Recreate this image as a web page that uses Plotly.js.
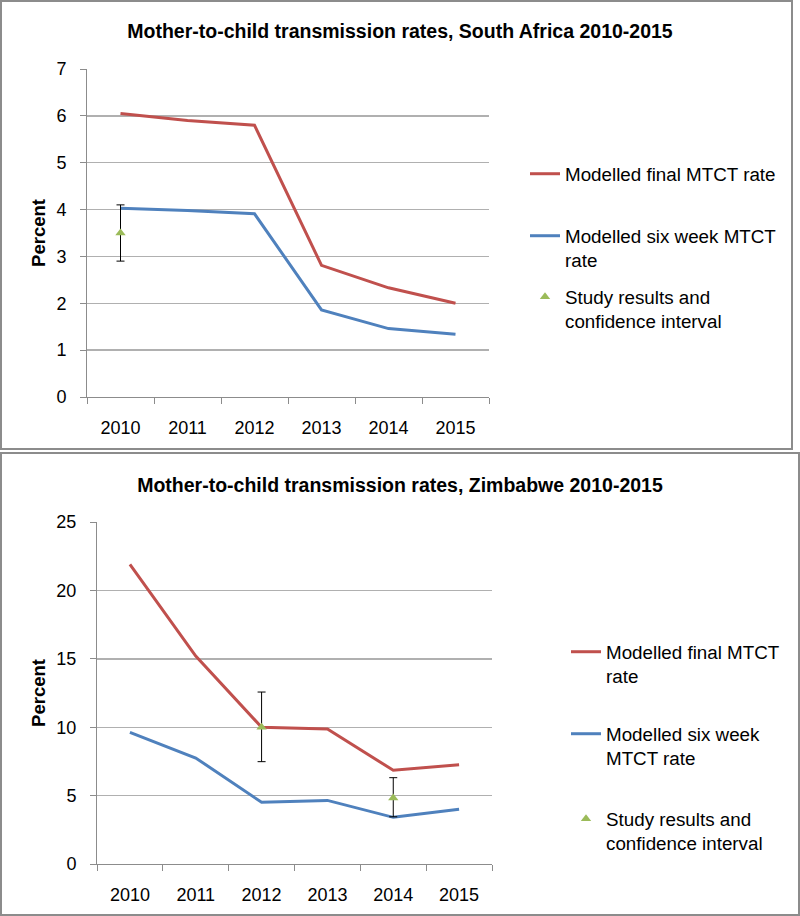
<!DOCTYPE html>
<html>
<head>
<meta charset="utf-8">
<script src="https://cdn.plot.ly/plotly-3.0.1.min.js"></script>
<style>
  html, body { margin: 0; padding: 0; background: #fff; width: 800px; height: 916px; overflow: hidden; }
  .chart { position: absolute; left: 0; }
  .frame { position: absolute; border: 2px solid #8c8c8c; box-sizing: border-box; pointer-events: none; }
</style>
</head>
<body>
<div id="c1" class="chart" style="top:0px;width:800px;height:450px;"></div>
<div id="c2" class="chart" style="top:450px;width:800px;height:466px;"></div>
<div class="frame" style="left:0px;top:0px;width:793px;height:450px;"></div>
<div class="frame" style="left:0px;top:452px;width:800px;height:464px;"></div>
<script>
// ---- Data ----
const years = ['2010', '2011', '2012', '2013', '2014', '2015'];

// South Africa
const saFinal = [6.05, 5.90, 5.80, 2.81, 2.33, 2.00];
const saSixWeek = [4.03, 3.98, 3.91, 1.86, 1.46, 1.34];
const saStudyYears = ['2010'];
const saStudy = [3.5];
const saStudyHigh = [4.1];
const saStudyLow = [2.9];

// Zimbabwe
const zwFinal = [21.9, 15.2, 10.0, 9.87, 6.85, 7.26];
const zwSixWeek = [9.62, 7.75, 4.51, 4.65, 3.41, 4.0];
const zwStudyYears = ['2012', '2014'];
const zwStudy = [10.0, 4.82];
const zwStudyHigh = [12.57, 6.31];
const zwStudyLow = [7.48, 3.45];

const titles = ['Mother-to-child transmission rates, South Africa 2010-2015',
                'Mother-to-child transmission rates, Zimbabwe 2010-2015'];
const legendNames = {
  top: ['Modelled final MTCT rate', 'Modelled six week MTCT<br>rate', 'Study results and<br>confidence interval'],
  bottom: ['Modelled final MTCT<br>rate', 'Modelled six week<br>MTCT rate', 'Study results and<br>confidence interval']
};

const RED = '#c0504d', BLUE = '#4f81bd', GREEN = '#9bbb59';
const FONT = 'Liberation Sans, Arial, sans-serif';

function traces(final, six, sx, sy, hi, lo, names) {
  return [
    { x: years, y: final, type: 'scatter', mode: 'lines', name: names[0],
      line: { color: RED, width: 3 }, legend: 'legend' },
    { x: years, y: six, type: 'scatter', mode: 'lines', name: names[1],
      line: { color: BLUE, width: 3 }, legend: 'legend2' },
    { x: sx, y: sy, type: 'scatter', mode: 'markers', name: names[2],
      marker: { symbol: 'triangle-up', color: GREEN, size: 9 },
      error_y: { type: 'data', symmetric: false,
                 array: hi.map((h, i) => h - sy[i]),
                 arrayminus: lo.map((l, i) => sy[i] - l),
                 color: '#000', thickness: 1, width: 4 },
      legend: 'legend3' }
  ];
}

function legendCfg(xpx, ypx, W, H) {
  return { x: xpx / W, y: 1 - ypx / H, xref: 'container', yref: 'container',
           xanchor: 'left', yanchor: 'top', valign: 'top',
           font: { family: FONT, size: 18.8, color: '#000' },
           bgcolor: 'rgba(0,0,0,0)', borderwidth: 0 };
}

function layout(W, H, m, ymax, dtick, title, titleY, legYs, legX) {
  return {
    width: W, height: H,
    margin: m,
    paper_bgcolor: '#fff', plot_bgcolor: '#fff',
    showlegend: true,
    font: { family: FONT, color: '#000' },
    title: { text: '<b>' + title + '</b>', x: 0.5, xref: 'container', xanchor: 'center',
             y: 1 - titleY / H, yref: 'container', yanchor: 'middle',
             font: { family: FONT, size: 19.5, color: '#000' } },
    xaxis: { type: 'category', range: [-0.5, 5.5], tickson: 'boundaries',
             ticks: 'outside', ticklen: 6, tickcolor: '#8c8c8c', tickwidth: 1,
             showline: true, linecolor: '#8c8c8c', linewidth: 1,
             showgrid: false, zeroline: false,
             tickfont: { family: FONT, size: 18, color: '#000' },
             ticklabelstandoff: 14, fixedrange: true },
    yaxis: { range: [0, ymax], dtick: dtick, tick0: 0,
             ticks: 'outside', ticklen: 6, tickcolor: '#8c8c8c', tickwidth: 1,
             showline: true, linecolor: '#8c8c8c', linewidth: 1,
             showgrid: true, gridcolor: '#b0b0b0', gridwidth: 1.4,
             zeroline: false,
             tickfont: { family: FONT, size: 18, color: '#000' },
             ticklabelstandoff: 10,
             title: { text: '<b>Percent</b>', font: { family: FONT, size: 18.5, color: '#000' }, standoff: 5 },
             fixedrange: true },
    legend: legendCfg(legX, legYs[0], W, H),
    legend2: legendCfg(legX, legYs[1], W, H),
    legend3: legendCfg(legX, legYs[2], W, H)
  };
}

Plotly.newPlot('c1',
  traces(saFinal, saSixWeek, saStudyYears, saStudy, saStudyHigh, saStudyLow, legendNames.top),
  layout(800, 450, { l: 87, r: 311, t: 69, b: 53 }, 7, 1, titles[0], 31, [155, 217, 278], 525),
  { staticPlot: true });

Plotly.newPlot('c2',
  traces(zwFinal, zwSixWeek, zwStudyYears, zwStudy, zwStudyHigh, zwStudyLow, legendNames.bottom),
  layout(800, 466, { l: 97, r: 308, t: 72, b: 52 }, 25, 5, titles[1], 35, [183, 265, 350], 566),
  { staticPlot: true });
</script>
</body>
</html>
